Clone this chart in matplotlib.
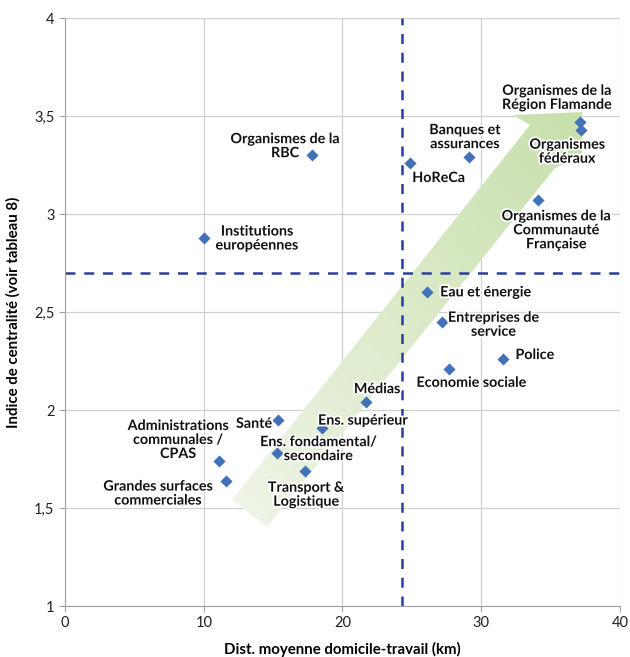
import matplotlib
matplotlib.use("Agg")
import matplotlib.pyplot as plt
import matplotlib.patheffects as pe
from matplotlib.patches import Polygon
from matplotlib.ticker import FuncFormatter
import numpy as np

plt.rcParams['font.family'] = ['Lato', 'DejaVu Sans']

# data
labels = ["Organismes de la\nRBC", "Institutions\neuropéennes", "HoReCa",
          "Banques et\nassurances", "Organismes de la\nRégion Flamande",
          "Organismes\nfédéraux", "Organismes de la\nCommunauté\nFrançaise",
          "Eau et énergie", "Entreprises de\nservice", "Police",
          "Economie sociale", "Médias", "Santé", "Ens. supérieur",
          "Ens. fondamental/\nsecondaire", "Transport &\nLogistique",
          "Administrations\ncommunales /\nCPAS", "Grandes surfaces\ncommerciales"]
dist = [17.8, 10.0, 24.9, 29.1, 37.1, 37.2, 34.1, 26.1, 27.2, 31.6,
        27.7, 21.7, 15.35, 18.5, 15.3, 17.3, 11.1, 11.6]
centr = [3.30, 2.88, 3.26, 3.29, 3.47, 3.43, 3.07, 2.60, 2.45, 2.26,
         2.21, 2.04, 1.95, 1.91, 1.78, 1.69, 1.74, 1.64]
mean_dist = 24.3
mean_centr = 2.7

# label offsets in pixels and alignment
offsets = [(-27, 9, 'center'), (53, -1, 'center'), (28, -15, 'center'),
           (-4, 20, 'center'), (-23, 24, 'center'), (-14, -22, 'center'),
           (18, -30, 'center'), (13, 0, 'left'), (51, -3, 'center'),
           (12, 4, 'left'), (22, -14, 'center'), (11, 13, 'center'),
           (-24, -4, 'center'), (41, 7, 'center'), (41, 4, 'center'),
           (1, -24, 'center'), (-41, 21, 'center'), (-68, -13, 'center')]

fig = plt.figure(figsize=(6.3, 6.57), dpi=100)
ax = fig.add_axes([0.1032, 0.0776, 0.8809, 0.895])
ax.set_xlim(0, 40)
ax.set_ylim(1, 4)

# green trend arrow
arrow_pts = np.array([(12.04, 1.541), (14.56, 1.403), (35.32, 3.235),
                      (37.26, 3.301), (37.26, 3.520), (32.29, 3.505),
                      (33.51, 3.454)])
arrow = Polygon(arrow_pts, closed=True, facecolor='none', edgecolor='none')
ax.add_patch(arrow)
gx, gy = np.meshgrid(np.linspace(0, 1, 200), np.linspace(0, 1, 200))
grad = (gx + gy) / 2
cmap = matplotlib.colors.LinearSegmentedColormap.from_list(
    'g', ['#f1f6ea', '#c6dfa9'])
im = ax.imshow(grad, extent=(11, 38, 1.35, 3.6), origin='lower',
               cmap=cmap, aspect='auto', zorder=1)
im.set_clip_path(arrow)

ax.axvline(mean_dist, color='#2a3f9d', lw=1.8, ls=(0, (4, 3.5)), zorder=2)
ax.axhline(mean_centr, color='#2a3f9d', lw=1.8, ls=(0, (4, 3.5)), zorder=2)

ax.scatter(dist, centr, marker='D', s=38, color='#4371b8', zorder=3,
           linewidths=0)

for lab, x, y, (dx, dy, ha) in zip(labels, dist, centr, offsets):
    ax.annotate(lab, (x, y), xytext=(dx, dy), textcoords='offset pixels',
                ha=ha, va='center', multialignment='center', fontsize=10.3,
                fontweight='bold', color='#111111', zorder=4,
                linespacing=1.2,
                path_effects=[pe.withStroke(linewidth=2.5, foreground='white')])

ax.set_xticks([0, 10, 20, 30, 40])
ax.set_yticks([1, 1.5, 2, 2.5, 3, 3.5, 4])
ax.yaxis.set_major_formatter(FuncFormatter(lambda v, p: ('%g' % v).replace('.', ',')))
ax.grid(True, color='#d0d0d0', lw=0.9, zorder=0)
ax.set_axisbelow(True)
for s in ['top', 'right']:
    ax.spines[s].set_visible(False)
for s in ['left', 'bottom']:
    ax.spines[s].set_color('#a0a0a0')
ax.tick_params(colors='#a0a0a0', labelcolor='#222222', labelsize=10.5, length=4)

ax.set_xlabel('Dist. moyenne domicile-travail (km)', fontsize=10.8,
              fontweight='bold', labelpad=8)
ax.set_ylabel('Indice de centralité (voir tableau 8)', fontsize=10.8,
              fontweight='bold', labelpad=10)

fig.savefig('out.png', dpi=100)
